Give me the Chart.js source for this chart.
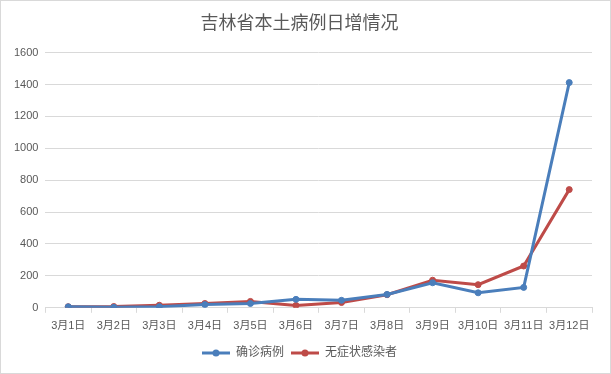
<!DOCTYPE html>
<html>
<head>
<meta charset="utf-8">
<script src="https://cdn.jsdelivr.net/npm/chart.js@4"></script>
<style>
  html, body { margin: 0; padding: 0; background: #fff; }
  #wrap {
    position: absolute; left: 0; top: 0;
    width: 609px; height: 372px;
    border: 1px solid #d9d9d9;
  }
  canvas { display: block; }
</style>
</head>
<body>
<div id="wrap"><canvas id="chart" width="609" height="372"></canvas></div>
<script>
// data
const days = ["3月1日", "3月2日", "3月3日", "3月4日", "3月5日", "3月6日",
  "3月7日", "3月8日", "3月9日", "3月10日", "3月11日", "3月12日"];
const confirmed = [6, 3, 7, 20, 27, 53, 47, 84, 157, 94, 128, 1412];
const asymptomatic = [7, 8, 16, 27, 40, 15, 33, 82, 173, 145, 262, 741];
const yTicks = [0, 200, 400, 600, 800, 1000, 1200, 1400, 1600];

const fontFamily = "'Liberation Sans', 'Noto Sans CJK SC', sans-serif";
const gridColor = "#d9d9d9";
const textColor = "#595959";
const blue = "#4a7ebb";
const red = "#be4b48";

// legend marker: short line with a dot in the middle
function legendMarker(color) {
  const c = document.createElement("canvas");
  c.width = 28;
  c.height = 8;
  const g = c.getContext("2d");
  g.strokeStyle = color;
  g.lineWidth = 3;
  g.beginPath();
  g.moveTo(0, 4);
  g.lineTo(28, 4);
  g.stroke();
  g.fillStyle = color;
  g.beginPath();
  g.arc(14, 4, 3.5, 0, Math.PI * 2);
  g.fill();
  return c;
}

new Chart(document.getElementById("chart"), {
  type: "line",
  data: {
    labels: days,
    datasets: [
      {
        label: "确诊病例",
        data: confirmed,
        borderColor: blue,
        backgroundColor: blue,
        borderWidth: 3,
        pointRadius: 3,
        pointBorderWidth: 1,
        pointHoverRadius: 3,
        tension: 0,
      },
      {
        label: "无症状感染者",
        data: asymptomatic,
        borderColor: red,
        backgroundColor: red,
        borderWidth: 3,
        pointRadius: 3,
        pointBorderWidth: 1,
        pointHoverRadius: 3,
        tension: 0,
      },
    ],
  },
  options: {
    responsive: false,
    animation: false,
    layout: { padding: { left: 6, right: 18, top: 4, bottom: 4 } },
    plugins: {
      title: {
        display: true,
        text: "吉林省本土病例日增情况",
        color: textColor,
        font: { family: fontFamily, size: 18, weight: "normal" },
        padding: { top: 8, bottom: 18 },
      },
      legend: {
        position: "bottom",
        labels: {
          color: textColor,
          font: { family: fontFamily, size: 12 },
          usePointStyle: true,
          pointStyleWidth: 28,
          boxHeight: 8,
          padding: 7,
          generateLabels: (chart) =>
            chart.data.datasets.map((ds, i) => ({
              text: ds.label,
              fontColor: textColor,
              pointStyle: legendMarker(ds.borderColor),
              datasetIndex: i,
              lineWidth: 0,
            })),
        },
      },
      tooltip: { enabled: false },
    },
    scales: {
      x: {
        offset: true,
        grid: {
          offset: true,
          drawOnChartArea: false,
          drawTicks: true,
          tickLength: 5,
          color: gridColor,
        },
        border: { color: gridColor },
        ticks: {
          color: textColor,
          font: { family: fontFamily, size: 11 },
          maxRotation: 0,
          autoSkip: false,
          padding: 7,
        },
      },
      y: {
        min: 0,
        max: 1600,
        afterBuildTicks: (axis) => {
          axis.ticks = yTicks.map((v) => ({ value: v }));
        },
        grid: { color: gridColor, drawTicks: false },
        border: { display: false },
        ticks: {
          color: textColor,
          font: { family: fontFamily, size: 11 },
          padding: 7,
          callback: (v) => String(v),
        },
      },
    },
  },
});
</script>
</body>
</html>
